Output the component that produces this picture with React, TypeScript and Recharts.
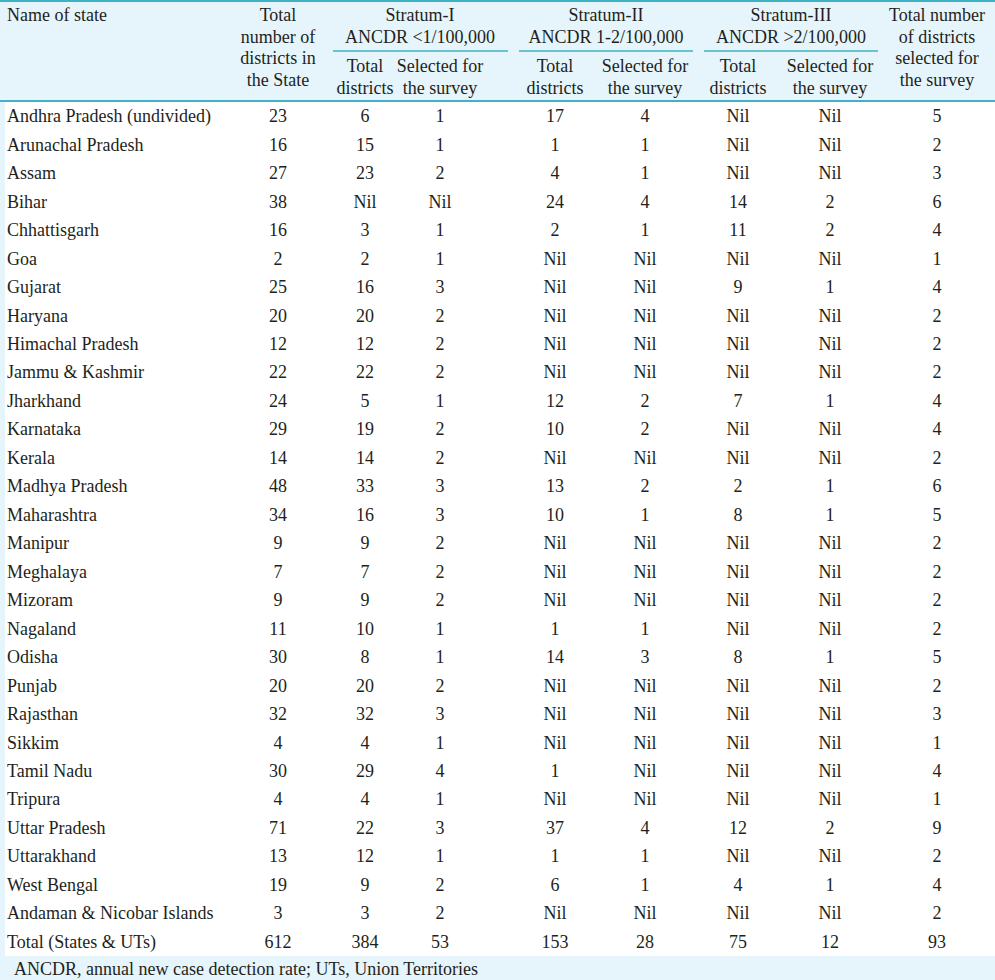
import { ScatterChart, Scatter, XAxis, YAxis } from 'recharts';

// rows of the table
const states = [
  'Andhra Pradesh (undivided)', 'Arunachal Pradesh', 'Assam', 'Bihar', 'Chhattisgarh', 'Goa', 'Gujarat',
  'Haryana', 'Himachal Pradesh', 'Jammu & Kashmir', 'Jharkhand', 'Karnataka', 'Kerala', 'Madhya Pradesh',
  'Maharashtra', 'Manipur', 'Meghalaya', 'Mizoram', 'Nagaland', 'Odisha', 'Punjab', 'Rajasthan', 'Sikkim',
  'Tamil Nadu', 'Tripura', 'Uttar Pradesh', 'Uttarakhand', 'West Bengal', 'Andaman & Nicobar Islands',
  'Total (States & UTs)',
];

// null = "Nil"
const totalDistricts = [23, 16, 27, 38, 16, 2, 25, 20, 12, 22, 24, 29, 14, 48, 34, 9, 7, 9, 11, 30, 20, 32, 4, 30, 4, 71, 13, 19, 3, 612];
const s1Total = [6, 15, 23, null, 3, 2, 16, 20, 12, 22, 5, 19, 14, 33, 16, 9, 7, 9, 10, 8, 20, 32, 4, 29, 4, 22, 12, 9, 3, 384];
const s1Selected = [1, 1, 2, null, 1, 1, 3, 2, 2, 2, 1, 2, 2, 3, 3, 2, 2, 2, 1, 1, 2, 3, 1, 4, 1, 3, 1, 2, 2, 53];
const s2Total = [17, 1, 4, 24, 2, null, null, null, null, null, 12, 10, null, 13, 10, null, null, null, 1, 14, null, null, null, 1, null, 37, 1, 6, null, 153];
const s2Selected = [4, 1, 1, 4, 1, null, null, null, null, null, 2, 2, null, 2, 1, null, null, null, 1, 3, null, null, null, null, null, 4, 1, 1, null, 28];
const s3Total = [null, null, null, 14, 11, null, 9, null, null, null, 7, null, null, 2, 8, null, null, null, null, 8, null, null, null, null, null, 12, null, 4, null, 75];
const s3Selected = [null, null, null, 2, 2, null, 1, null, null, null, 1, null, null, 1, 1, null, null, null, null, 1, null, null, null, null, null, 2, null, 1, null, 12];
const totalSelected = [5, 2, 3, 6, 4, 1, 4, 2, 2, 2, 4, 4, 2, 6, 5, 2, 2, 2, 2, 5, 2, 3, 1, 4, 1, 9, 2, 4, 2, 93];

const columns = [totalDistricts, s1Total, s1Selected, s2Total, s2Selected, s3Total, s3Selected, totalSelected];

// layout: column centres in px
const COL_X = [278, 365, 440, 555, 645, 738, 830, 937];

const W = 995;
const H = 980;
const FONT = 'Liberation Serif';
const FS = 18;
const INK = '#231f20';
const PALE = '#e6f5fb';
const TEAL = '#3fb2c6';
const LEFT = 5;
const TXT = { fontFamily: FONT, fontSize: FS };

const series = columns.map((col, c) =>
  col.map((v, i) => ({ state: states[i], x: COL_X[c], label: v === null ? 'Nil' : String(v) }))
);

const Cell = (props: any) => (
  <text x={props.cx} y={props.cy} textAnchor="middle" dominantBaseline="central" style={TXT} fill={INK}>
    {props.payload.label}
  </text>
);

const StateTick = (props: any) => (
  <text x={7} y={props.y} textAnchor="start" dominantBaseline="central" style={TXT} fill={INK}>
    {props.payload.value}
  </text>
);

const HeadText = ({ x, lines, anchor = 'middle', top = 15 }: any) => (
  <g>
    {lines.map((l: string, i: number) => (
      <text key={i} x={x} y={top + i * 21.7} textAnchor={anchor} dominantBaseline="central" style={TXT} fill={INK}>
        {l}
      </text>
    ))}
  </g>
);

export default function App() {
  return (
    <div style={{ position: 'absolute', left: 0, top: 0, width: W, height: H, background: '#fff', fontFamily: FONT }}>
      <svg width={W} height={H} style={{ position: 'absolute', left: 0, top: 0 }}>
        <rect x={0} y={0} width={W} height={101} fill={PALE} />
        <rect x={0} y={101} width={LEFT} height={856} fill={PALE} />
        <rect x={0} y={956} width={W} height={24} fill={PALE} />
        <line x1={0} x2={W} y1={1} y2={1} stroke={TEAL} strokeWidth={2} />
        <line x1={0} x2={W} y1={101} y2={101} stroke={TEAL} strokeWidth={2} />
        <line x1={333} x2={508} y1={51} y2={51} stroke={TEAL} strokeWidth={1.5} />
        <line x1={519} x2={693} y1={51} y2={51} stroke={TEAL} strokeWidth={1.5} />
        <line x1={704} x2={878} y1={51} y2={51} stroke={TEAL} strokeWidth={1.5} />

        <HeadText x={7} anchor="start" lines={['Name of state']} />
        <HeadText x={278} lines={['Total', 'number of', 'districts in', 'the State']} />
        <HeadText x={420} lines={['Stratum-I', 'ANCDR <1/100,000']} />
        <HeadText x={606} lines={['Stratum-II', 'ANCDR 1-2/100,000']} />
        <HeadText x={791} lines={['Stratum-III', 'ANCDR >2/100,000']} />
        <HeadText x={937} lines={['Total number', 'of districts', 'selected for', 'the survey']} />
        <HeadText x={365} top={66} lines={['Total', 'districts']} />
        <HeadText x={440} top={66} lines={['Selected for', 'the survey']} />
        <HeadText x={555} top={66} lines={['Total', 'districts']} />
        <HeadText x={645} top={66} lines={['Selected for', 'the survey']} />
        <HeadText x={738} top={66} lines={['Total', 'districts']} />
        <HeadText x={830} top={66} lines={['Selected for', 'the survey']} />

        <text x={14} y={969} dominantBaseline="central" style={TXT} fill={INK}>
          ANCDR, annual new case detection rate; UTs, Union Territories
        </text>
      </svg>

      <div style={{ position: 'absolute', left: 0, top: 0 }}>
        <ScatterChart width={W} height={H} margin={{ top: 102, right: 0, bottom: 24, left: 0 }}>
          <XAxis type="number" dataKey="x" domain={[LEFT, W]} hide allowDataOverflow />
          <YAxis
            type="category"
            dataKey="state"
            width={LEFT}
            reversed
            allowDuplicatedCategory={false}
            tick={<StateTick />}
            tickLine={false}
            axisLine={false}
            interval={0}
          />
          {series.map((d, i) => (
            <Scatter key={i} data={d} shape={<Cell />} isAnimationActive={false} />
          ))}
        </ScatterChart>
      </div>
    </div>
  );
}
